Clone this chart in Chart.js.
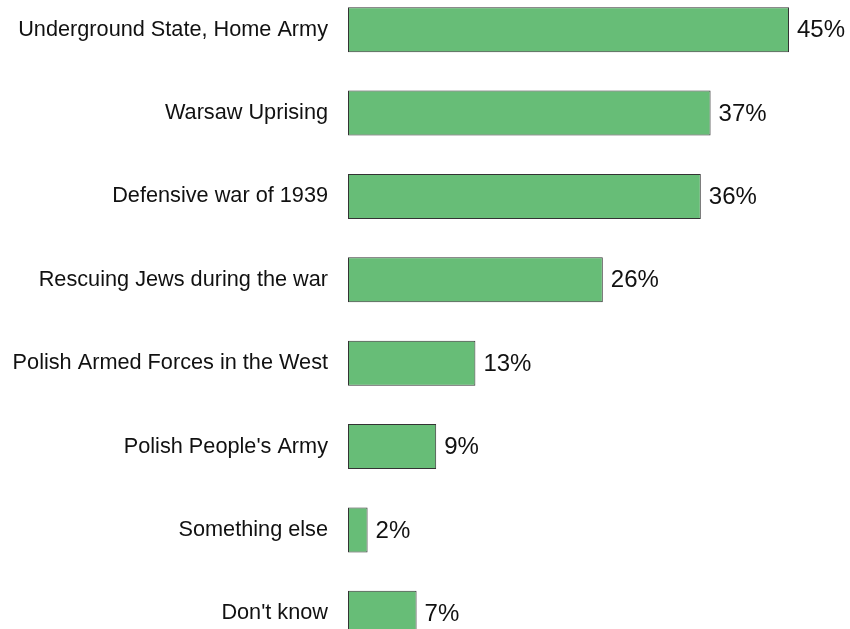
<!DOCTYPE html>
<html>
<head>
<meta charset="utf-8">
<script src="https://cdn.jsdelivr.net/npm/chart.js@4"></script>
<style>
  html, body { margin: 0; padding: 0; background: #fff; overflow: hidden; }
  #chart { position: absolute; left: 0; top: -12px; }
</style>
</head>
<body>
<canvas id="chart" width="850" height="667"></canvas>
<script>
// categories and shares (%)
const categories = [
    'Underground State, Home Army',
    'Warsaw Uprising',
    'Defensive war of 1939',
    'Rescuing Jews during the war',
    'Polish Armed Forces in the West',
    "Polish People's Army",
    'Something else',
    "Don't know"
];
const shares = [45, 37, 36, 26, 13, 9, 2, 7];

// value labels at the end of each bar
const valueLabels = {
    id: 'valueLabels',
    afterDatasetsDraw(chart) {
        const { ctx } = chart;
        const meta = chart.getDatasetMeta(0);
        ctx.save();
        ctx.font = '24px "Liberation Sans", Arial, sans-serif';
        ctx.fillStyle = '#111111';
        ctx.textAlign = 'left';
        ctx.textBaseline = 'middle';
        meta.data.forEach((bar, i) => {
            ctx.fillText(shares[i] + '%', bar.x + 8, bar.y + 1);
        });
        ctx.restore();
    }
};

new Chart(document.getElementById('chart'), {
    type: 'bar',
    data: {
        labels: categories,
        datasets: [{
            data: shares,
            backgroundColor: '#67bd77',
            borderColor: '#333333',
            borderWidth: 1,
            borderSkipped: false,
            barPercentage: 0.54,
            categoryPercentage: 1
        }]
    },
    options: {
        indexAxis: 'y',
        responsive: false,
        animation: false,
        layout: { padding: { left: 0, right: 12, top: 0, bottom: 0 } },
        plugins: {
            legend: { display: false },
            tooltip: { enabled: false }
        },
        scales: {
            x: {
                display: false,
                min: 0,
                max: 50
            },
            y: {
                grid: { display: false, drawTicks: false },
                border: { display: false },
                ticks: {
                    padding: 20,
                    color: '#111111',
                    font: { family: '"Liberation Sans", Arial, sans-serif', size: 21.7 }
                },
                afterFit(scale) {
                    scale.width = 348;
                    scale.paddingTop = 0;
                    scale.paddingBottom = 0;
                }
            }
        }
    },
    plugins: [valueLabels]
});
</script>
</body>
</html>
